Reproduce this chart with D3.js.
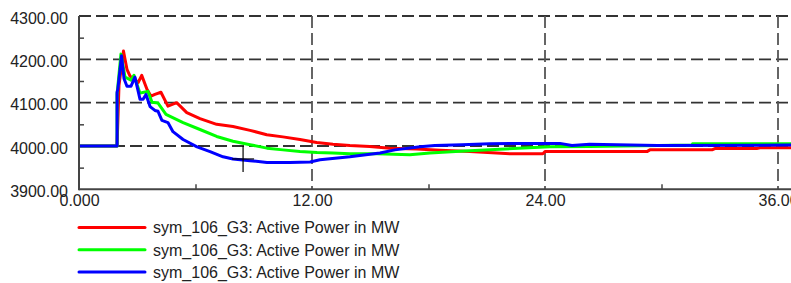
<!DOCTYPE html>
<html>
<head>
<meta charset="utf-8">
<script src="https://cdn.jsdelivr.net/npm/d3@7"></script>
<style>
  body { margin: 0; background: #fff; }
  svg { display: block; font-family: "Liberation Sans", Arial, sans-serif; }
</style>
</head>
<body>
<div id="app"></div>
<script>
// time axis (s)
const xTicks = [0, 12, 24, 36];
const xTickLabels = ['0.000', '12.00', '24.00', '36.00'];
const xMinorTicks = [6, 18, 30];
const yTicks = [3900, 4000, 4100, 4200, 4300];
const yMinorTicks = [3950, 4050, 4150, 4250];
const seriesNames = ['sym_106_G3: Active Power in MW', 'sym_106_G3: Active Power in MW', 'sym_106_G3: Active Power in MW'];
const seriesColors = ['#ff0000', '#00ff00', '#0000ff'];

// [time, MW]
const redValues = [
  [0, 4000], [1.96, 4000], [2.06, 4140], [2.29, 4219], [2.47, 4177], [2.63, 4161], [2.83, 4156],
  [3.04, 4146], [3.23, 4163], [3.50, 4131], [3.71, 4115], [3.91, 4119], [4.22, 4124], [4.58, 4092],
  [5.03, 4100], [5.55, 4077], [6.23, 4063], [7.09, 4050], [7.93, 4045], [8.81, 4036], [9.67, 4026],
  [10.5, 4021], [11.38, 4015], [12.24, 4008], [13.08, 4004], [13.95, 4001], [14.98, 3999],
  [16.01, 3995], [17.4, 3993], [18.59, 3990], [20.13, 3987], [22.19, 3982], [23.89, 3982],
  [24.0, 3987], [29.25, 3987], [29.4, 3991], [32.6, 3991], [32.75, 3994], [34.9, 3994],
  [35.07, 3996], [36.7, 3996]
];
const greenValues = [
  [0, 4000], [1.96, 4000], [1.96, 4119], [2.16, 4212], [2.37, 4159], [2.68, 4152], [2.83, 4163],
  [3.14, 4122], [3.35, 4124], [3.55, 4126], [3.76, 4101], [4.07, 4099], [4.48, 4073], [5.36, 4054],
  [6.23, 4038], [7.09, 4022], [7.93, 4011], [8.81, 4003], [9.68, 3995], [10.5, 3991], [11.38, 3987],
  [12.26, 3985], [13.08, 3984], [13.95, 3982], [15.35, 3982], [17.04, 3980], [18.07, 3984],
  [19.62, 3988], [21.94, 3993], [24.25, 3998], [26.3, 3999], [31.57, 4002], [31.6, 4005], [36.7, 4005]
];
const blueValues = [
  [0, 4000], [1.96, 4000], [1.96, 4124], [2.0, 4131], [2.19, 4208], [2.32, 4155], [2.47, 4138],
  [2.68, 4138], [2.88, 4159], [3.14, 4108], [3.30, 4108], [3.45, 4119], [3.66, 4091], [3.91, 4082],
  [4.07, 4080], [4.27, 4059], [4.58, 4054], [4.84, 4033], [5.36, 4015], [6.08, 3998], [6.75, 3987],
  [7.42, 3975], [7.93, 3970], [8.81, 3966], [9.68, 3962], [10.87, 3962], [11.9, 3963], [12.41, 3968],
  [13.95, 3975], [15.5, 3984], [16.27, 3991], [17.56, 3998], [18.33, 4001], [19.72, 4003],
  [21.16, 4005], [22.7, 4006], [24.77, 4006], [25.39, 4001], [26.3, 4004], [29.8, 4001], [36.7, 4002]
];
const cursorPoint = [8.45, 3970];

const width = 791;
const height = 283;
const svg = d3.select('#app').append('svg')
  .attr('width', width).attr('height', height);

const x = d3.scaleLinear().domain([0, 36]).range([79, 778]);
const y = d3.scaleLinear().domain([3900, 4300]).range([189.3, 16]);

const gridColor = '#333';

// horizontal grid
svg.append('g').selectAll('line')
  .data(yTicks.filter(d => d > 3900))
  .join('line')
  .attr('x1', x(0)).attr('x2', width)
  .attr('y1', d => y(d)).attr('y2', d => y(d))
  .attr('stroke', gridColor).attr('stroke-width', 1.8)
  .attr('stroke-dasharray', '12,5');

// vertical grid
svg.append('g').selectAll('line')
  .data(xTicks.filter(d => d > 0))
  .join('line')
  .attr('x1', d => x(d)).attr('x2', d => x(d))
  .attr('y1', y(4300)).attr('y2', y(3900))
  .attr('stroke', '#555').attr('stroke-width', 1.8)
  .attr('stroke-dasharray', '12,5');

// series
const line = d3.line().x(d => x(d[0])).y(d => y(d[1]));
[redValues, greenValues, blueValues].forEach((vals, i) => {
  svg.append('path')
    .datum(vals)
    .attr('fill', 'none')
    .attr('stroke', seriesColors[i])
    .attr('stroke-width', 3)
    .attr('stroke-linejoin', 'round')
    .attr('d', line);
});

// cursor cross
const cx = x(cursorPoint[0]), cy = y(cursorPoint[1]);
svg.append('line').attr('x1', cx).attr('x2', cx).attr('y1', cy - 13).attr('y2', cy + 13)
  .attr('stroke', '#000').attr('stroke-width', 1.2);
svg.append('line').attr('x1', cx - 11).attr('x2', cx + 11).attr('y1', cy).attr('y2', cy)
  .attr('stroke', '#000').attr('stroke-width', 1.2);

// axes
const axisColor = '#444';
const yAxis = svg.append('g').attr('transform', `translate(${x(0)},0)`)
  .call(d3.axisLeft(y).tickValues(yTicks).tickSize(0).tickPadding(11).tickFormat(d3.format('.2f')));
const yMinor = svg.append('g').attr('transform', `translate(${x(0)},0)`)
  .call(d3.axisRight(y).tickValues(yMinorTicks).tickSize(5).tickFormat(''));
const xAxis = svg.append('g').attr('transform', `translate(0,${y(3900)})`)
  .call(d3.axisBottom(x).tickValues(xTicks).tickSize(0).tickPadding(5).tickFormat((d, i) => xTickLabels[i]));
const xMinor = svg.append('g').attr('transform', `translate(0,${y(3900)})`)
  .call(d3.axisTop(x).tickValues(xMinorTicks).tickSize(5).tickFormat(''));

[yAxis, yMinor, xAxis, xMinor].forEach(g => {
  g.select('.domain').remove();
  g.selectAll('line').attr('stroke', axisColor).attr('stroke-width', 1.5);
  g.selectAll('text').attr('fill', '#222').attr('font-size', 16)
    .attr('font-family', '"Liberation Sans", Arial, sans-serif');
});
yAxis.selectAll('text').attr('dy', '0.45em');

svg.append('line').attr('x1', x(0)).attr('x2', x(0)).attr('y1', y(4300)).attr('y2', y(3900) + 1)
  .attr('stroke', axisColor).attr('stroke-width', 2);
svg.append('line').attr('x1', x(0)).attr('x2', width).attr('y1', y(3900)).attr('y2', y(3900))
  .attr('stroke', axisColor).attr('stroke-width', 2);

// legend
const legend = svg.append('g');
const rowY = d3.scaleLinear().domain([0, 2]).range([227.5, 272]);
seriesNames.forEach((name, i) => {
  legend.append('line')
    .attr('x1', 79).attr('x2', 145)
    .attr('y1', rowY(i)).attr('y2', rowY(i))
    .attr('stroke', seriesColors[i]).attr('stroke-width', 3).attr('stroke-linecap', 'round');
  legend.append('text')
    .attr('x', 153).attr('y', rowY(i)).attr('dy', '0.36em')
    .attr('font-size', 16).attr('fill', '#222')
    .text(name);
});
</script>
</body>
</html>
